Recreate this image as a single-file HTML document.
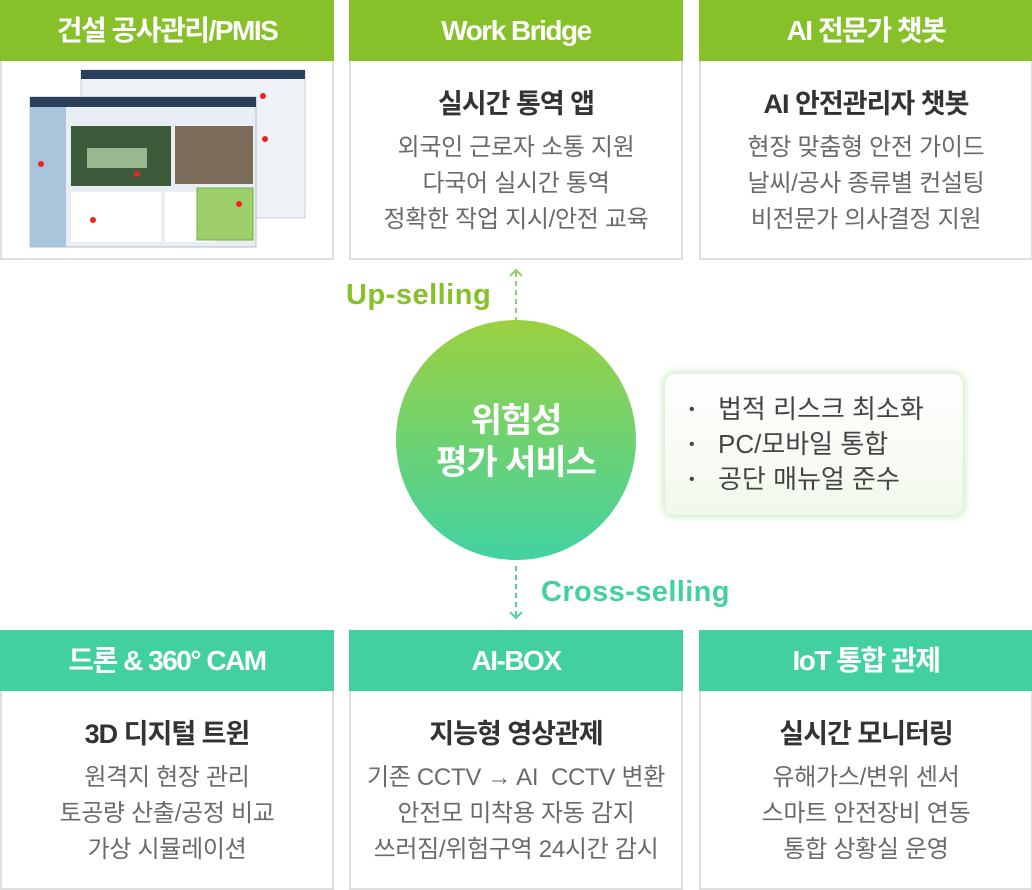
<!DOCTYPE html>
<html><head><meta charset="utf-8"><style>
*{margin:0;padding:0;box-sizing:border-box}
body{width:1032px;height:890px;background:#fff;position:relative;overflow:hidden;font-family:"Liberation Sans","Noto Sans CJK KR",sans-serif}
.card{position:absolute;width:334px;height:260px;border:2px solid #dedede;border-top:none;background:#fff}
.hd{position:absolute;left:-2px;right:-2px;top:0;height:61px;color:#fff;font-size:28px;font-weight:bold;text-align:center;line-height:61px;letter-spacing:-1.5px}
.g .hd{background:#86c12a}.t .hd{background:#42d0a0}
.tt{position:absolute;top:82px;width:100%;text-align:center;font-size:27px;font-weight:bold;color:#333;letter-spacing:-1px}
.ds{position:absolute;top:130px;width:100%;text-align:center;font-size:24px;line-height:36px;color:#6a6a6a;letter-spacing:-0.3px;white-space:nowrap}
.circle{position:absolute;left:396px;top:320px;width:240px;height:240px;border-radius:50%;background:linear-gradient(#9bd140,#42d2a2);color:#fff;font-size:34px;font-weight:bold;text-align:center;padding-top:80px;line-height:42px;letter-spacing:-1px}
.box{position:absolute;left:665px;top:374px;width:298px;height:141px;border-radius:10px;background:linear-gradient(#fff,#f2f8ec);box-shadow:0 0 8px 2px rgba(140,210,120,0.45);padding:18px 0 0 24px;font-size:26px;color:#444;line-height:34px;letter-spacing:0;white-space:nowrap}
.box span{display:inline-block;width:29px;font-size:16px;vertical-align:4px}
</style></head><body>
<div class="card g" style="left:0;top:0"><div class="hd">건설 공사관리/PMIS</div>
<svg style="position:absolute;left:25px;top:68px" width="282" height="182">
<rect x="54" y="2" width="224" height="148" fill="#eef2f6" stroke="#ccd"/>
<rect x="54" y="2" width="224" height="9" fill="#2a3f5a"/>
<rect x="3" y="29" width="226" height="150" fill="#e8eef4" stroke="#bbc"/>
<rect x="3" y="29" width="226" height="10" fill="#2a3f5a"/>
<rect x="3" y="39" width="36" height="140" fill="#aac4dc"/>
<rect x="44" y="58" width="100" height="60" fill="#3d5a3a"/>
<rect x="60" y="80" width="60" height="20" fill="#9ab890"/>
<rect x="148" y="58" width="78" height="58" fill="#7b6d5a"/>
<rect x="44" y="124" width="90" height="50" fill="#fff"/>
<rect x="138" y="124" width="50" height="50" fill="#fff"/>
<rect x="170" y="120" width="56" height="52" fill="#9fcf6a" stroke="#6bb33a"/>
<circle cx="110" cy="106" r="3" fill="#e22"/><circle cx="14" cy="96" r="3" fill="#e22"/><circle cx="66" cy="152" r="3" fill="#e22"/>
<circle cx="236" cy="28" r="3" fill="#e22"/><circle cx="238" cy="71" r="3" fill="#e22"/><circle cx="212" cy="136" r="3" fill="#e22"/>
</svg></div>
<div class="card g" style="left:349px;top:0"><div class="hd">Work Bridge</div><div class="tt">실시간 통역 앱</div><div class="ds">외국인 근로자 소통 지원<br>다국어 실시간 통역<br>정확한 작업 지시/안전 교육</div></div>
<div class="card g" style="left:699px;top:0"><div class="hd">AI 전문가 챗봇</div><div class="tt">AI 안전관리자 챗봇</div><div class="ds">현장 맞춤형 안전 가이드<br>날씨/공사 종류별 컨설팅<br>비전문가 의사결정 지원</div></div>

<div class="card t" style="left:0;top:630px"><div class="hd">드론 &amp; 360° CAM</div><div class="tt">3D 디지털 트윈</div><div class="ds">원격지 현장 관리<br>토공량 산출/공정 비교<br>가상 시뮬레이션</div></div>
<div class="card t" style="left:349px;top:630px"><div class="hd">AI-BOX</div><div class="tt">지능형 영상관제</div><div class="ds">기존 CCTV → AI &nbsp;CCTV 변환<br>안전모 미착용 자동 감지<br>쓰러짐/위험구역 24시간 감시</div></div>
<div class="card t" style="left:699px;top:630px"><div class="hd">IoT 통합 관제</div><div class="tt">실시간 모니터링</div><div class="ds">유해가스/변위 센서<br>스마트 안전장비 연동<br>통합 상황실 운영</div></div>

<svg style="position:absolute;left:0;top:0" width="1032" height="890">
<line x1="516" y1="272" x2="516" y2="320" stroke="#8fcf6a" stroke-width="2" stroke-dasharray="5,4"/>
<polyline points="510,276 516,270 522,276" fill="none" stroke="#8fcf6a" stroke-width="2"/>
<line x1="516" y1="566" x2="516" y2="616" stroke="#4fd0a0" stroke-width="2" stroke-dasharray="5,4"/>
<polyline points="510,612 516,618 522,612" fill="none" stroke="#4fd0a0" stroke-width="2"/>
</svg>
<div style="position:absolute;left:346px;top:279px;font-size:29px;font-weight:bold;color:#86c12a;letter-spacing:0.5px">Up-selling</div>
<div style="position:absolute;left:541px;top:576px;font-size:29px;font-weight:bold;color:#42d0a0;letter-spacing:0.4px">Cross-selling</div>
<div class="circle">위험성<br>평가 서비스</div>
<div class="box"><span>•</span>법적 리스크 최소화<br><span>•</span>PC/모바일 통합<br><span>•</span>공단 매뉴얼 준수</div>
</body></html>
